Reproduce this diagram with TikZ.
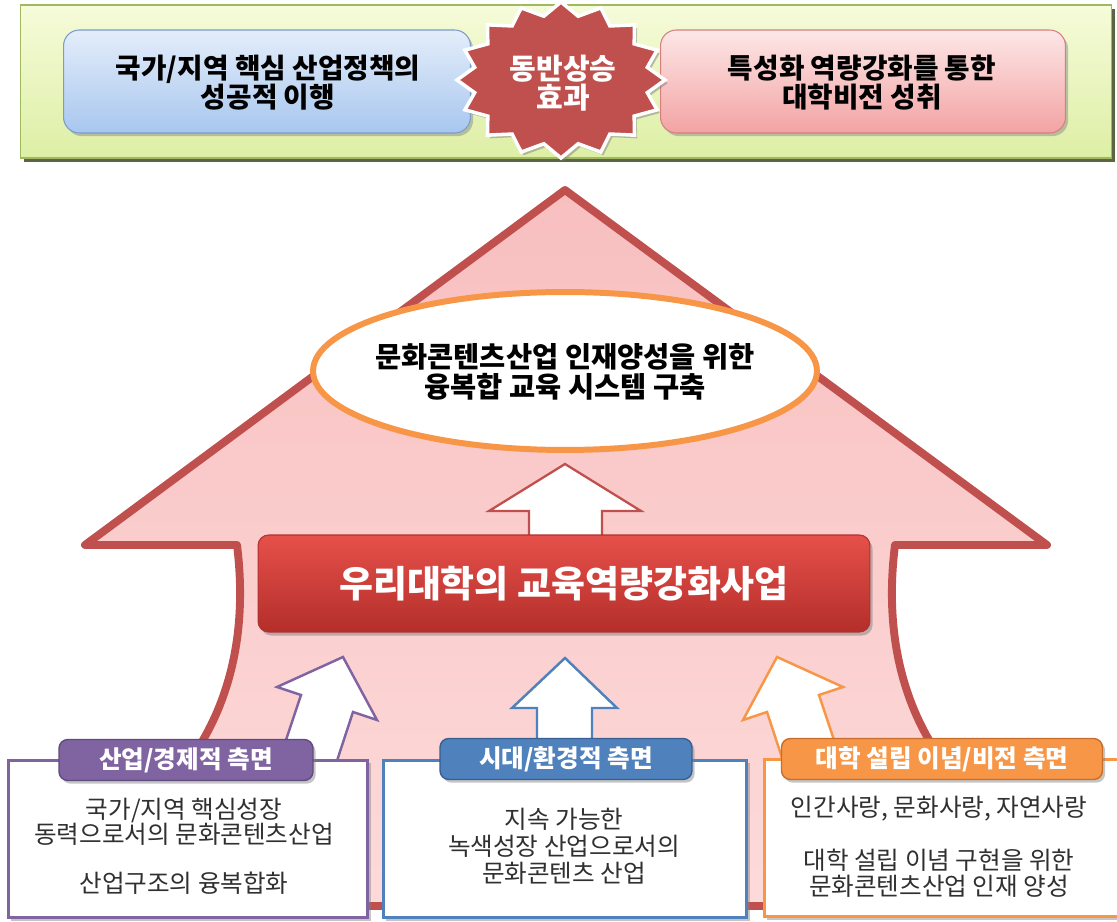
\documentclass[tikz,border=0pt]{standalone}
\usepackage{fontspec}
\setmainfont{Noto Sans CJK KR}
\usetikzlibrary{shadows,shapes.geometric,calc}
\definecolor{arrowred}{HTML}{C0504D}
\definecolor{pinktop}{HTML}{F8BFBF}
\definecolor{pinkbot}{HTML}{FDDADA}
\definecolor{purp}{HTML}{8064A2}
\definecolor{blu}{HTML}{4F81BD}
\definecolor{orng}{HTML}{F79646}
\definecolor{bodytxt}{HTML}{303030}
\begin{document}
\begin{tikzpicture}[x=0.02cm,y=-0.02cm,
  shad/.style={drop shadow={shadow xshift=1.5pt,shadow yshift=-1.8pt,opacity=0.45}},
  banner/.style={rectangle,minimum width=21.84cm,minimum height=3.06cm,
    top color={rgb,255:red,246;green,251;blue,218},bottom color={rgb,255:red,221;green,239;blue,165},
    draw={rgb,255:red,160;green,185;blue,95},line width=0.6pt,
    drop shadow={shadow xshift=2pt,shadow yshift=-2.5pt,fill={rgb,255:red,60;green,75;blue,35},opacity=0.85}},
  topbox/.style={rectangle,rounded corners=9pt,minimum height=2.06cm,line width=0.6pt,shad},
  toptxt/.style={font=\bfseries\fontsize{15.8}{16.6}\selectfont,align=center,inner sep=0pt},
  tab/.style={rectangle,rounded corners=5pt,minimum height=0.82cm,text=white,
    font=\bfseries\fontsize{14}{15}\selectfont,line width=0.8pt,shad},
  basebox/.style={rectangle,fill=white,line width=1.7pt,minimum height=3.16cm,shad},
  bodytext/.style={text=bodytxt,font=\fontsize{14}{14.3}\selectfont,align=center,inner sep=0pt},
  smallarrow/.style={fill=white,line width=1.4pt,line join=miter}
]
\clip (0,0) rectangle (1117,922);
\fill[white] (0,0) rectangle (1117,922);

% ---- top banner ----
\node[banner] (banner) at (566,81.5) {};
\node[topbox,top color={rgb,255:red,228;green,237;blue,250},bottom color={rgb,255:red,168;green,199;blue,239},
  draw={rgb,255:red,122;green,156;blue,203},minimum width=8.14cm] (leftgoal) at (267,81.5) {};
\node[toptxt] (lefttxt) at (268,83) {국가/지역 핵심 산업정책의\\성공적 이행};
\node[topbox,top color={rgb,255:red,253;green,231;blue,231},bottom color={rgb,255:red,243;green,163;blue,163},
  draw={rgb,255:red,215;green,127;blue,127},minimum width=8.1cm] (rightgoal) at (863,81.5) {};
\node[toptxt] (righttxt) at (862,83) {특성화 역량강화를 통한\\대학비전 성취};

% star (16 points)
\path[fill=arrowred,draw=white,line width=2pt,line join=miter,
  drop shadow={shadow xshift=1.5pt,shadow yshift=-1.8pt,opacity=0.5}]
  plot[samples=33,domain=0:32,variable=\k]
  ({561+(104-16*mod(round(\k),2))*cos(90+11.25*\k)},{80+(78-13*mod(round(\k),2))*sin(90+11.25*\k)}) -- cycle;
\node[toptxt,text=white,font=\bfseries\fontsize{16.5}{16.8}\selectfont] (startxt) at (563,83) {동반상승\\효과};

% ---- big arrow ----
\path[draw=arrowred,line width=4.5pt,line join=round,top color=pinktop,bottom color=pinkbot]
  (565,190) -- (1047,545) -- (895,545) .. controls (885,625) and (900,690) .. (929,740)
  -- (967,906) -- (165,906) -- (203,740) .. controls (232,690) and (247,625) .. (237,545)
  -- (85,545) -- cycle;

% ellipse goal
\node[ellipse,draw=orng,line width=3.4pt,fill=white,minimum width=10.08cm,minimum height=3.16cm,
  inner sep=0pt] (goal) at (565,371) {};
\node[font=\bfseries\fontsize{16.2}{17}\selectfont,align=center,inner sep=0pt] (goaltxt) at (565,372)
  {문화콘텐츠산업 인재양성을 위한\\융복합 교육 시스템 구축};

% middle white arrow
\path[smallarrow,draw=arrowred,line width=1.3pt]
  (565,464) -- (641,511) -- (602,511) -- (602,540) -- (529,540) -- (529,511) -- (489,511) -- cycle;

% red bar
\node[rectangle,rounded corners=6pt,minimum width=12.24cm,minimum height=1.94cm,
  top color={rgb,255:red,230;green,80;blue,74},bottom color={rgb,255:red,180;green,46;blue,42},
  draw={rgb,255:red,175;green,50;blue,46},line width=0.6pt,
  drop shadow={shadow xshift=1.5pt,shadow yshift=-2pt,opacity=0.5},
  text=white,font=\bfseries\fontsize{21}{22}\selectfont] (bar) at (564,583.5) {우리대학의 교육역량강화사업};

% small arrows
\path[smallarrow,draw=purp]
  (343,657) -- (377,720) -- (353,712) -- (331,779) -- (279,761) -- (301,695) -- (277,687) -- cycle;
\path[smallarrow,draw=blu]
  (565,658) -- (617,708) -- (592,708) -- (592,775) -- (537,775) -- (537,708) -- (512,708) -- cycle;
\path[smallarrow,draw=orng]
  (777,657) -- (743,720) -- (767,712) -- (789,779) -- (841,761) -- (819,695) -- (843,687) -- cycle;

% ---- bottom boxes ----
\node[basebox,draw=purp,minimum width=7.2cm] (box1) at (188,839) {};
\node[basebox,draw=blu,minimum width=7.28cm] (box2) at (565,839) {};
\node[basebox,draw=orng,minimum width=7.3cm] (box3) at (947,838) {};

\node[tab,fill=purp,draw={rgb,255:red,95;green,75;blue,126},minimum width=5.08cm] (tab1) at (186,760) {산업/경제적 측면};
\node[tab,fill=blu,draw={rgb,255:red,55;green,95;blue,145},minimum width=5.04cm] (tab2) at (566,759) {시대/환경적 측면};
\node[tab,fill=orng,draw={rgb,255:red,200;green,110;blue,45},minimum width=6.42cm] (tab3) at (942,759) {대학 설립 이념/비전 측면};

\node[bodytext] (b1a) at (184,822) {국가/지역 핵심성장\\동력으로서의 문화콘텐츠산업};
\node[bodytext] (b1b) at (184,883) {산업구조의 융복합화};
\node[bodytext,font=\fontsize{14}{15.3}\selectfont] (b2) at (564,846) {지속 가능한\\녹색성장 산업으로서의\\문화콘텐츠 산업};
\node[bodytext] (b3a) at (939,809) {인간사랑, 문화사랑, 자연사랑};
\node[bodytext,font=\fontsize{14}{14.8}\selectfont] (b3b) at (939,873) {대학 설립 이념 구현을 위한\\문화콘텐츠산업 인재 양성};
\end{tikzpicture}
\end{document}
